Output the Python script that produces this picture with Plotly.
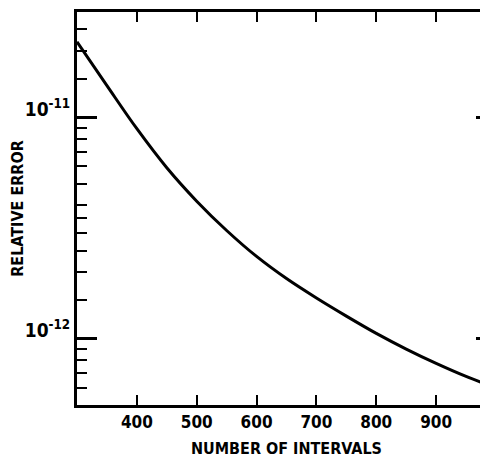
import plotly.graph_objects as go

# Data
intervals = [300, 350, 400, 450, 500, 550, 600, 650, 700, 750, 800, 850, 900, 950, 1000]
rel_error = [2.198e-11, 1.393e-11, 8.89e-12, 5.92e-12, 4.18e-12, 3.08e-12, 2.35e-12, 1.866e-12,
             1.524e-12, 1.262e-12, 1.054e-12, 8.95e-13, 7.71e-13, 6.73e-13, 5.97e-13]

x_ticks = [400, 500, 600, 700, 800, 900]
x_ticktext = ["400", "500", "600", "700", "800", "900"]
y_major = [1e-12, 1e-11]
y_major_text = ["10<sup>-12</sup>", "10<sup>-11</sup>"]
y_minor = [5e-13, 6e-13, 7e-13, 8e-13, 9e-13,
           1.5e-12, 2e-12, 2.5e-12, 3e-12, 3.5e-12, 4e-12, 5e-12, 6e-12, 7e-12, 8e-12, 9e-12,
           1.5e-11, 2e-11, 2.5e-11]

FONT = "DejaVu Sans Condensed"
x_range = [300, 1000]
y_range_log = [-12.301, -10.523]

fig = go.Figure()
fig.add_trace(go.Scatter(x=intervals, y=rel_error, mode="lines",
                         line=dict(color="black", width=3, shape="spline", smoothing=1.0),
                         hoverinfo="skip", showlegend=False))

fig.update_layout(
    width=488, height=459,
    margin=dict(l=69, r=0, t=4, b=62),
    paper_bgcolor="white", plot_bgcolor="white",
    xaxis=dict(
        range=x_range, tickmode="array", tickvals=x_ticks, ticktext=x_ticktext,
        ticks="inside", ticklen=10, tickwidth=2, tickcolor="black",
        showline=True, linewidth=3, linecolor="black", mirror="ticks",
        showgrid=False, zeroline=False,
        tickfont=dict(family=FONT, size=17, weight="bold", color="black"),
        title=dict(text="NUMBER OF INTERVALS", standoff=12,
                   font=dict(family=FONT, size=16, weight="bold", color="black")),
        automargin=False,
    ),
    yaxis=dict(
        type="log", range=y_range_log, tickmode="array", tickvals=y_major, ticktext=y_major_text,
        ticks="inside", ticklen=20, tickwidth=2.5, tickcolor="black",
        minor=dict(tickmode="array", tickvals=y_minor, ticks="inside", ticklen=10,
                   tickwidth=2, tickcolor="black", showgrid=False),
        showline=True, linewidth=3, linecolor="black", mirror="ticks",
        showgrid=False, zeroline=False,
        tickfont=dict(family=FONT, size=19, weight="bold", color="black"),
        ticklabelshift=-8,
        title=dict(text="RELATIVE ERROR", standoff=6,
                   font=dict(family=FONT, size=16, weight="bold", color="black")),
        automargin=False,
    ),
)

fig.write_html("out.html")
